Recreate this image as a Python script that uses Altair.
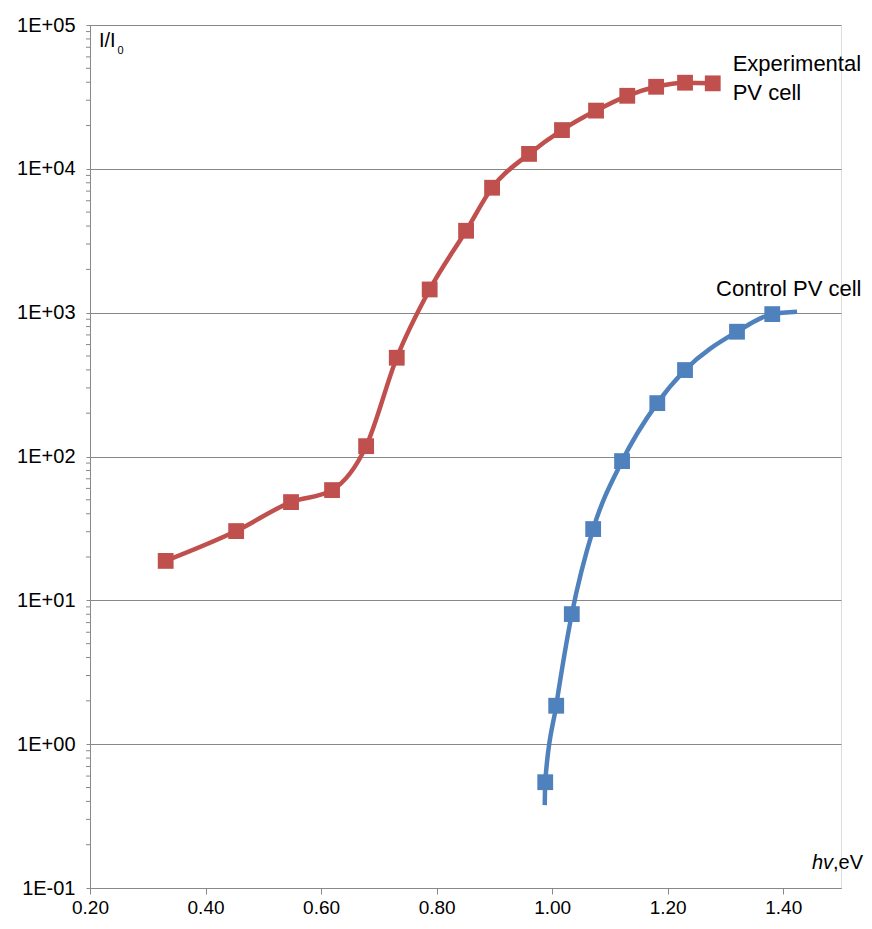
import altair as alt
import pandas as pd

# Experimental PV cell (red) - marker points
exp_x = [0.331, 0.453, 0.548, 0.619, 0.678, 0.731, 0.788, 0.851, 0.896, 0.960,
         1.017, 1.076, 1.130, 1.180, 1.230, 1.278]
exp_y = [18.8, 30.3, 48.2, 58.4, 118, 486, 1450, 3710, 7390, 12700,
         18600, 25400, 32200, 37200, 39700, 39300]

# Control PV cell (blue) - marker points
ctrl_x = [0.988, 1.007, 1.034, 1.071, 1.121, 1.182, 1.230, 1.320, 1.381]
ctrl_y = [0.544, 1.85, 8.02, 31.3, 92.9, 235, 399, 737, 977]
# line extends beyond first/last markers
ctrl_line_x = [0.9872] + ctrl_x + [1.424]
ctrl_line_y = [0.377] + ctrl_y + [1014]

x_ticks = [0.2, 0.4, 0.6, 0.8, 1.0, 1.2, 1.4]
y_ticks = [0.1, 1, 10, 100, 1000, 10000, 100000]
y_tick_labels = ["1E-01", "1E+00", "1E+01", "1E+02", "1E+03", "1E+04", "1E+05"]
y_minor = [m * d for d in [0.1, 1, 10, 100, 1000, 10000] for m in range(2, 10)]

RED = "#C0504D"
BLUE = "#4F81BD"
GRAY = "#888888"
FONT = "Liberation Sans"

exp_df = pd.DataFrame({"x": exp_x, "y": exp_y})
ctrl_df = pd.DataFrame({"x": ctrl_x, "y": ctrl_y})
ctrl_line_df = pd.DataFrame({"x": ctrl_line_x, "y": ctrl_line_y})
minor_df = pd.DataFrame({"y": y_minor})

label_expr = ""
for v, lab in zip(y_ticks, y_tick_labels):
    label_expr += f"abs(datum.value - {v}) < {v * 1e-6} ? '{lab}' : "
label_expr += "''"

xscale = alt.Scale(domain=[0.2, 1.5], nice=False, zero=False)
yscale = alt.Scale(type="log", domain=[0.1, 100000], nice=False)

xenc = alt.X("x:Q", scale=xscale, axis=alt.Axis(
    values=x_ticks, format=".2f", title=None, grid=False,
    tickSize=6, tickColor=GRAY, domainColor=GRAY, labelFont=FONT,
    labelFontSize=19, labelColor="black", labelPadding=4,
    labelFlush=False))
yenc = alt.Y("y:Q", scale=yscale, axis=alt.Axis(
    values=y_ticks, labelExpr=label_expr, title=None, grid=True,
    gridColor=GRAY, gridWidth=1, tickSize=4, tickColor=GRAY,
    domainColor=GRAY, labelFont=FONT, labelFontSize=20,
    labelColor="black", labelPadding=11, labelFlush=False))

exp_line = alt.Chart(exp_df).mark_line(
    color=RED, strokeWidth=4.5, interpolate="monotone").encode(x=xenc, y=yenc)
exp_pts = alt.Chart(exp_df).mark_square(
    color=RED, size=250, opacity=1, filled=True).encode(x="x:Q", y="y:Q")
ctrl_line = alt.Chart(ctrl_line_df).mark_line(
    color=BLUE, strokeWidth=4.5, interpolate="monotone").encode(x="x:Q", y="y:Q")
ctrl_pts = alt.Chart(ctrl_df).mark_square(
    color=BLUE, size=250, opacity=1, filled=True).encode(x="x:Q", y="y:Q")

minor_ticks = alt.Chart(minor_df).mark_rule(color=GRAY, strokeWidth=1).encode(
    y="y:Q", x=alt.value(-4), x2=alt.value(0))


def txt(s, x, y, size=22, align="left", style="normal"):
    return alt.Chart(alt.Data(values=[{}])).mark_text(
        text=s, font=FONT, fontSize=size, align=align, baseline="alphabetic",
        fontStyle=style, color="black").encode(x=alt.value(x), y=alt.value(y))


texts = [
    txt("Experimental", 642.7, 46),
    txt("PV cell", 642.7, 75),
    txt("Control PV cell", 626, 271),
    txt("I/I", 9, 21.7, size=20),
    txt("0", 27.5, 29.3, size=11),
    txt(",eV", 773, 844.3, size=20, align="right"),
    txt("hv", 743, 844.3, size=20, align="right", style="italic"),
]

chart = alt.layer(minor_ticks, exp_line, exp_pts, ctrl_line, ctrl_pts, *texts).properties(
    width=751, height=863,
    autosize=alt.AutoSizeParams(type="none"),
    padding={"left": 82, "top": 17, "right": 23, "bottom": 28},
).configure_view(stroke=None).configure(background="white")

chart.save("out.html", embed_options={"renderer": "svg", "actions": False})
